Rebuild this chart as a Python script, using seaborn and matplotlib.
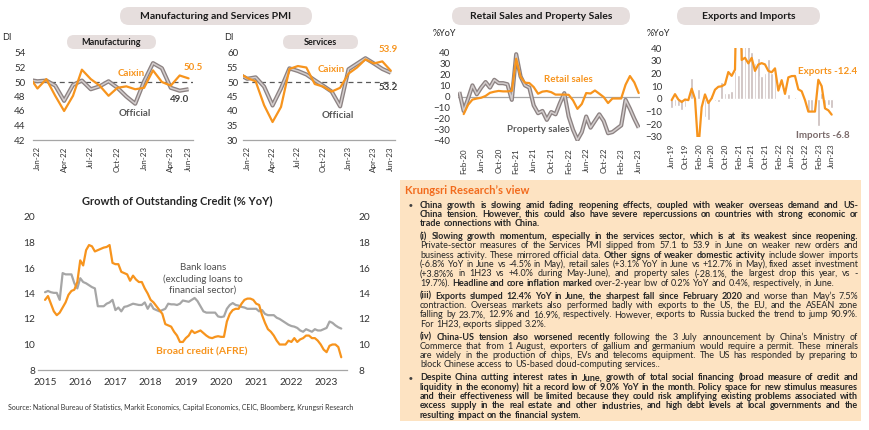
import numpy as np
import pandas as pd
import matplotlib
matplotlib.use('Agg')
import matplotlib.pyplot as plt
from matplotlib.patches import FancyBboxPatch, Rectangle
from matplotlib.transforms import Affine2D
import seaborn as sns

sns.set_style('white')
plt.rcParams['font.family'] = ['Lato', 'DejaVu Sans']

ORANGE = '#F7941D'
GREY_OUT = '#8C8282'
GREY_IN = '#D3CDCD'
PILL = '#E6DEDD'
TXT = '#262626'

# ---------------- data ----------------
pmi_months = ['Dec-21', 'Jan-22', 'Feb-22', 'Mar-22', 'Apr-22', 'May-22', 'Jun-22', 'Jul-22', 'Aug-22',
              'Sep-22', 'Oct-22', 'Nov-22', 'Dec-22', 'Jan-23', 'Feb-23', 'Mar-23', 'Apr-23', 'May-23', 'Jun-23']
mfg_official = [50.3, 50.1, 50.2, 49.5, 47.4, 49.6, 50.2, 49.0, 49.4, 50.1, 49.2, 48.0, 47.0, 50.1, 52.6, 51.9, 49.2, 48.8, 49.0]
mfg_caixin = [50.9, 49.1, 50.4, 48.1, 46.0, 48.1, 51.7, 50.4, 49.5, 48.1, 49.2, 49.4, 49.0, 49.2, 51.6, 50.0, 49.5, 50.9, 50.5]
srv_official = [52.7, 51.1, 51.6, 48.4, 41.9, 47.8, 54.7, 53.8, 52.6, 50.6, 48.7, 46.7, 41.6, 54.4, 56.3, 58.2, 56.4, 54.5, 53.2]
srv_caixin = [53.1, 51.4, 50.2, 42.0, 36.2, 41.4, 54.5, 55.5, 55.0, 49.3, 48.4, 46.7, 48.0, 52.9, 55.0, 57.8, 56.4, 57.1, 53.9]
pmi_ticks = ['Jan-22', 'Apr-22', 'Jul-22', 'Oct-22', 'Jan-23', 'Apr-23', 'Jun-23']

retail_months = pd.date_range('2020-01-01', periods=42, freq='MS').strftime('%b-%y').tolist()
retail_sales = [np.nan, -15.8, -7.5, -2.8, -1.8, -1.1, 0.5, 3.3, 4.3, 5.0, 4.6, 4.6, 5.0, 34.0, 17.7, 12.4, 12.1,
                8.5, 2.5, 4.4, 4.9, 3.9, 1.7, 1.7, 1.7, 1.5, -3.5, -11.1, -6.7, 3.1, 2.7, 5.4, 2.5, -0.5, -5.9,
                -1.8, -1.8, -1.8, 10.6, 18.4, 12.7, 3.1]
property_sales = [4, -13, -2, 10, 2, 8, 13, 8, 15, 12, 12, 11, -3, 38, 18, 10, 8, -8, -15, -13, -21, -14, -16,
                  -6, 3, -18, -30, -39, -32, -18, -28, -22, -16, -22, -33, -32, -29, -26, -3, -11, -20, -28]

trade_months = pd.date_range('2019-06-01', periods=49, freq='MS').strftime('%b-%y').tolist()
exports = [-1, 3.7, -0.5, -2.5, -0.5, -1, 8, 0, -40, -6.6, 3.5, -3.3, 0.5, 7.2, 9.5, 9.9, 11.4, 21.1, 18.1, 23,
           155, 30.6, 32.3, 27.9, 32.2, 22, 27, 28.1, 27.1, 22, 20.9, 24, 6.5, 14.7, 3.9, 16.9, 17.9, 18, 7.5, 6,
           -1, -10, -10, -10, 15, 10, -7.5, -9, -12.4]
imports = [-7.3, -5.6, -5.6, -8.5, -6.4, -1, 16.5, -12, 7.5, -0.9, -14.2, -16.7, 2.7, -1.4, -2.1, 13.2, 4.7, 4.5,
           6.5, 22, 19, 40, 43.1, 51.1, 36.7, 28, 32, 17.6, 20.6, 31.7, 20, 20, 1, 1, 0, 3.5, 0, 1.5, 0.5, 0, 0,
           -10.6, -10.5, -10, -21, 4.5, -8, -4.5, -6.8]

credit_months = pd.date_range('2015-01-01', periods=102, freq='MS')
afre = [13.5, 13.8, 13.2, 12.6, 12.3, 12.5, 12.9, 13.3, 13.9, 14.2, 14.3, 14.9,
        16.6, 16.2, 17.4, 17.8, 17.7, 17.3, 17.4, 17.5, 17.6, 17.65, 17.8, 16.4,
        16.3, 16.3, 15.7, 15.6, 15.5, 15.0, 15.4, 15.1, 14.9, 14.9, 14.4, 14.0,
        13.5, 13.3, 13.0, 12.7, 12.4, 11.6, 11.5, 11.4, 11.0, 10.7, 10.2, 10.2,
        10.5, 10.7, 11.1, 10.9, 11.0, 11.1, 10.9, 10.7, 10.55, 10.5, 10.6, 10.65,
        10.6, 10.6, 11.8, 12.4, 12.7, 12.8, 12.8, 13.2, 13.5, 13.6, 13.6, 13.5,
        13.2, 13.1, 12.3, 11.7, 11.2, 11.0, 10.7, 10.3, 10.0, 10.0, 10.0, 10.3,
        10.2, 10.5, 10.2, 10.4, 10.5, 10.7, 10.7, 10.5, 10.5, 10.3, 10.0, 9.6,
        9.4, 9.9, 10.0, 10.0, 9.8, 9.0]
bank_loans = [14.1, 14.2, 14.1, 14.05, 14.05, 13.5, 15.6, 15.5, 15.5, 15.5, 14.8, 14.4,
              15.2, 14.9, 14.8, 14.65, 14.5, 14.4, 13.0, 13.0, 13.0, 13.2, 13.3, 13.5,
              12.7, 12.9, 12.6, 12.95, 13.0, 13.1, 13.2, 13.15, 13.1, 13.1, 13.3, 12.8,
              13.2, 12.8, 12.7, 12.6, 12.7, 12.8, 13.2, 13.15, 13.15, 13.1, 13.2, 13.45,
              13.4, 13.35, 13.5, 13.65, 13.4, 13.0, 12.6, 12.5, 12.5, 12.5, 12.5, 12.2,
              12.15, 12.2, 12.8, 13.1, 13.25, 13.1, 13.05, 12.95, 12.9, 12.8, 12.8, 12.8,
              12.8, 12.6, 12.7, 12.4, 12.3, 12.3, 12.3, 12.1, 12.0, 11.85, 11.7, 11.55,
              11.45, 11.4, 11.3, 11.1, 11.0, 11.2, 11.1, 11.0, 11.2, 11.1, 11.1, 11.2,
              11.3, 11.8, 11.7, 11.5, 11.35, 11.25]
credit_years = [2015, 2016, 2017, 2018, 2019, 2020, 2021, 2022, 2023]

B = True
R = False
view_paras = [
    ('bullet', [
        [("China growth is slowing amid fading reopening effects, coupled with weaker overseas demand and US-", B)],
        [("China tension. However, this could also have severe repercussions on countries with strong economic or", B)],
        [("trade connections with China.", B)]]),
    ('plain', [
        [("(i) Slowing growth momentum, especially in the services sector, which is at its weakest since reopening.", B)],
        [("Private-sector measures of the Services PMI slipped from 57.1 to 53.9 in June on weaker new orders and", R)],
        [("business activity. These mirrored official data.", R), ("Other signs of weaker domestic activity", B), ("include slower imports", R)],
        [("(-6.8% YoY in June vs -4.5% in May), retail sales (+3.1% YoY in June vs +12.7% in May), fixed asset investment", R)],
        [("(+3.8%% in 1H23 vs +4.0% during May-June), and property sales (-28.1%, the largest drop this year, vs -", R)],
        [("19.7%).", R), ("Headline and core inflation marked", B), ("over-2-year low of 0.2% YoY and 0.4%, respectively, in June.", R)]]),
    ('plain', [
        [("(iii) Exports slumped 12.4% YoY in June, the sharpest fall since February 2020", B), ("and worse than May\u2019s 7.5%", R)],
        [("contraction. Overseas markets also performed badly with exports to the US, the EU, and the ASEAN zone", R)],
        [("falling by 23.7%, 12.9% and 16.9%, respectively. However, exports to Russia bucked the trend to jump 90.9%.", R)],
        [("For 1H23, exports slipped 3.2%.", R)]]),
    ('plain', [
        [("(iv) China-US tension also worsened recently", B), ("following the 3 July announcement by China\u2019s Ministry of", R)],
        [("Commerce that from 1 August, exporters of gallium and germanium would require a permit. These minerals", R)],
        [("are widely in the production of chips, EVs and telecoms equipment. The US has responded by preparing to", R)],
        [("block Chinese access to US-based cloud-computing services..", R)]]),
    ('bullet', [
        [("Despite China cutting interest rates in June, growth of total social financing (broad measure of credit and", B)],
        [("liquidity in the economy) hit a record low of 9.0% YoY in the month. Policy space for new stimulus measures", B)],
        [("and their effectiveness will be limited because they could risk amplifying existing problems associated with", B)],
        [("excess supply in the real estate and other industries, and high debt levels at local governments and the", B)],
        [("resulting impact on the financial system.", B)]]),
]

# ---------------- figure ----------------
W, H = 870, 430
fig = plt.figure(figsize=(8.7, 4.3), dpi=100)
T = Affine2D().scale(1 / W, -1 / H).translate(0, 1) + fig.transFigure


def px_axes(l, t, r, b):
    return fig.add_axes([l / W, 1 - b / H, (r - l) / W, (b - t) / H])


def ftext(x, y, s, **kw):
    kw.setdefault('color', TXT)
    return fig.text(x, y, s, transform=T, **kw)


def pill(x0, y0, x1, y1, text, size):
    p = FancyBboxPatch((x0, y0), x1 - x0, y1 - y0,
                       boxstyle=f'round,pad=0,rounding_size={(y1 - y0) / 2}',
                       transform=T, fc=PILL, ec='none')
    fig.add_artist(p)
    ftext((x0 + x1) / 2, (y0 + y1) / 2 + 0.5, text, ha='center', va='center',
          fontsize=size, fontweight='bold', color='#1a1a1a')


def clean(ax, bottom_line=True):
    sns.despine(ax=ax, left=True, right=True, top=True, bottom=not bottom_line)
    ax.spines['bottom'].set_color('#A6A6A6')
    ax.spines['bottom'].set_linewidth(0.9)
    ax.patch.set_alpha(0)
    ax.set_xlabel('')
    ax.set_ylabel('')


def double_line(ax, x, y):
    sns.lineplot(x=x, y=y, ax=ax, color=GREY_OUT, lw=3.0, solid_capstyle='butt')
    sns.lineplot(x=x, y=y, ax=ax, color=GREY_IN, lw=1.1)


# ---- Manufacturing / Services PMI ----
pill(120, 7, 312, 25, 'Manufacturing and Services PMI', 7.5)
idx = np.arange(len(pmi_months))
tick_pos = [pmi_months.index(m) for m in pmi_months if m in pmi_ticks]

for (l, r, lo, hi, step, off, cx, xpad, ylabel_x, lab) in [
        (33, 193, 42, 54, 2, mfg_official, mfg_caixin, 5.5, 7, 0),
        (243, 395, 30, 60, 5, srv_official, srv_caixin, 3.5, 229, 1)]:
    ax = px_axes(l, 53, r, 140)
    ax.axhline(50, color='#595959', lw=0.9, ls=(0, (4, 3)), zorder=1)
    double_line(ax, idx, off)
    sns.lineplot(x=idx, y=cx, ax=ax, color=ORANGE, lw=1.6)
    ax.set_xlim(0.5, len(pmi_months) - 0.5)
    ax.set_ylim(lo, hi)
    ax.set_yticks(np.arange(lo, hi + 0.1, step))
    ax.set_xticks(tick_pos)
    ax.set_xticklabels(pmi_ticks, rotation=90, fontsize=5.8, color='#333333')
    ax.tick_params(axis='y', length=0, pad=xpad, labelsize=7, labelcolor='#333333')
    ax.tick_params(axis='x', length=0, pad=4.5)
    clean(ax)
    ftext(ylabel_x, 37, 'DI', ha='center', va='center', fontsize=6.5)
    if lab == 0:
        pill(67, 35, 156, 49, 'Manufacturing', 6.5)
        ftext(131, 73, 'Caixin', ha='center', va='center', fontsize=7, fontweight='bold', color=ORANGE)
        ftext(193, 68, '50.5', ha='center', va='center', fontsize=7, fontweight='bold', color=ORANGE)
        ftext(180, 99, '49.0', ha='center', va='center', fontsize=7, fontweight='bold', color='#404040')
        ftext(135, 113, 'Official', ha='center', va='center', fontsize=7, fontweight='bold', color='#595959')
    else:
        pill(283, 35, 358, 49, 'Services', 6.5)
        ftext(331, 70, 'Caixin', ha='center', va='center', fontsize=7, fontweight='bold', color=ORANGE)
        ftext(388, 50, '53.9', ha='center', va='center', fontsize=7, fontweight='bold', color=ORANGE)
        ftext(388, 88, '53.2', ha='center', va='center', fontsize=7, fontweight='bold', color='#404040')
        ftext(338, 116, 'Official', ha='center', va='center', fontsize=7, fontweight='bold', color='#595959')

# ---- Retail and property sales ----
pill(452, 7, 630, 25, 'Retail Sales and Property Sales', 7.5)
ax = px_axes(458, 52, 640, 141)
ridx = np.arange(len(retail_months))
ax.axhline(0, color='#A6A6A6', lw=0.9, zorder=1)
double_line(ax, ridx, property_sales)
sns.lineplot(x=ridx, y=retail_sales, ax=ax, color=ORANGE, lw=1.6)
ax.set_xlim(-0.3, 41.3)
ax.set_ylim(-40, 40)
ax.set_yticks(np.arange(-40, 41, 10))
ax.set_xticks(ridx[1::4])
ax.set_xticklabels(retail_months[1::4], rotation=90, fontsize=5.8, color='#333333')
ax.tick_params(axis='y', length=0, pad=5.5, labelsize=7, labelcolor='#333333')
ax.tick_params(axis='x', length=0, pad=5)
clean(ax, bottom_line=False)
ftext(433, 33, '%YoY', ha='left', va='center', fontsize=6.5)
ftext(568, 80, 'Retail sales', ha='center', va='center', fontsize=7, fontweight='bold', color=ORANGE)
ftext(538, 129, 'Property sales', ha='center', va='center', fontsize=7, fontweight='bold', color='#595959')

# ---- Exports and imports ----
pill(677, 7, 820, 25, 'Exports and Imports', 7.5)
ax = px_axes(669, 48, 835, 137)
tidx = np.arange(len(trade_months))
sns.barplot(x=tidx, y=imports, ax=ax, color='#C9BBBA', width=0.72, native_scale=True, saturation=1)
sns.lineplot(x=tidx, y=exports, ax=ax, color=ORANGE, lw=1.6)
ax.set_xlim(-0.8, 49.0)
ax.set_ylim(-30, 40)
ax.set_yticks(np.arange(-30, 41, 10))
ax.set_xticks(tidx[::4])
ax.set_xticklabels(trade_months[::4], rotation=90, fontsize=5.8, color='#333333')
ax.tick_params(axis='y', length=0, pad=5, labelsize=7, labelcolor='#333333')
ax.tick_params(axis='x', length=0, pad=4.5)
clean(ax, bottom_line=False)
ftext(647, 33, '%YoY', ha='left', va='center', fontsize=6.5)
ftext(828, 72, 'Exports -12.4', ha='center', va='center', fontsize=7, fontweight='bold', color=ORANGE)
ftext(823, 135, 'Imports -6.8', ha='center', va='center', fontsize=7, fontweight='bold', color='#7A6A6A')

# ---- Outstanding credit ----
ax = px_axes(38, 217, 347, 370)
cx = np.asarray(credit_months.year + (credit_months.month - 1) / 12)
sns.lineplot(x=cx, y=bank_loans, ax=ax, color='#A6A6A6', lw=1.6)
sns.lineplot(x=cx, y=afre, ax=ax, color=ORANGE, lw=1.6)
ax.set_xlim(2014.8, 2023.58)
ax.set_ylim(8, 20)
ax.set_yticks(np.arange(8, 21, 2))
ax.set_xticks(credit_years)
ax.tick_params(axis='y', length=0, pad=2, labelsize=7.3, labelcolor='#333333')
ax.tick_params(axis='x', length=0, pad=5.5, labelsize=7.3, labelcolor='#333333')
clean(ax)
ax2 = ax.twinx()
ax2.set_ylim(8, 20)
ax2.set_yticks(np.arange(8, 21, 2))
ax2.tick_params(axis='y', length=0, pad=8, labelsize=7.3, labelcolor='#333333')
sns.despine(ax=ax2, left=True, right=True, top=True, bottom=True)
ftext(177, 201, 'Growth of Outstanding Credit (% YoY)', ha='center', va='center', fontsize=8, fontweight='bold')
ftext(203, 279, 'Bank loans\n(excluding loans to\nfinancial sector)', ha='center', va='center',
      fontsize=7, color='#505050', linespacing=1.25)
ftext(202, 352, 'Broad credit (AFRE)', ha='center', va='center', fontsize=7.5, fontweight='bold', color=ORANGE)

ftext(8, 407, 'Source: National Bureau of Statistics, Markit Economics, Capital Economics, CEIC, Bloomberg, Krungsri Research',
      ha='left', va='center', fontsize=5, color='#333333')

# ---- Krungsri Research's view ----
fig.add_artist(Rectangle((400, 180), 461, 241, transform=T, fc='#FDE3C2', ec='none'))
ftext(405, 191, 'Krungsri Research\u2019s view', ha='left', va='center', fontsize=8, fontweight='bold', color='#F26B1D')

renderer = fig.canvas.get_renderer()


def width_of(s, size, bold):
    t = fig.text(0, 0, s, fontsize=size, fontweight='bold' if bold else 'normal')
    w = t.get_window_extent(renderer).width
    t.remove()
    return w


X0, X1 = 420, 858
AVAIL = X1 - X0
base = 10
sp_base = {b: width_of('a a', base, b) - width_of('aa', base, b) for b in (False, True)}

# fit bold and regular sizes separately so both fill the column
reg_need, bold_need, mixed = [], [], []
for kind, lines in view_paras:
    for line in lines:
        words = [(w, b) for s, b in line for w in s.split(' ') if w]
        wr = sum(width_of(w, base, b) for w, b in words if not b)
        wb = sum(width_of(w, base, b) for w, b in words if b)
        gaps = sp_base[False] * (len(words) - 1)
        if wb == 0:
            reg_need.append(wr + gaps)
        elif wr == 0:
            bold_need.append(wb + gaps)
        mixed.append((wr, wb, gaps))
size_r = base * AVAIL / max(reg_need)
size_b = base * AVAIL / max(bold_need)
scale = 1.0
for wr, wb, g in mixed:
    need = (wr * size_r + wb * size_b + g * size_r) / base
    scale = min(scale, AVAIL / need)
size_r *= scale * 0.995
size_b *= scale * 0.995
sizes = {False: size_r, True: size_b}
sp = sp_base[False] * size_r / base

line_gap = 9.3
para_gap = 13.0
y = 207.5
for kind, lines in view_paras:
    if kind == 'bullet':
        ftext(411, y - 2.6, '\u25CF', ha='center', va='center', fontsize=4.5, color='#404040')
    for li, line in enumerate(lines):
        words = [(w, b) for s, b in line for w in s.split(' ') if w]
        widths = [width_of(w, sizes[b], b) for w, b in words]
        last = li == len(lines) - 1
        gap = sp if last or len(words) < 2 else (AVAIL - sum(widths)) / (len(words) - 1)
        x = X0
        for (w, b), wd in zip(words, widths):
            ftext(x, y, w, ha='left', va='baseline', fontsize=sizes[b],
                  fontweight='bold' if b else 'normal', color=TXT)
            x += wd + gap
        y += line_gap
    y += para_gap - line_gap

fig.savefig('out.png', dpi=100)
